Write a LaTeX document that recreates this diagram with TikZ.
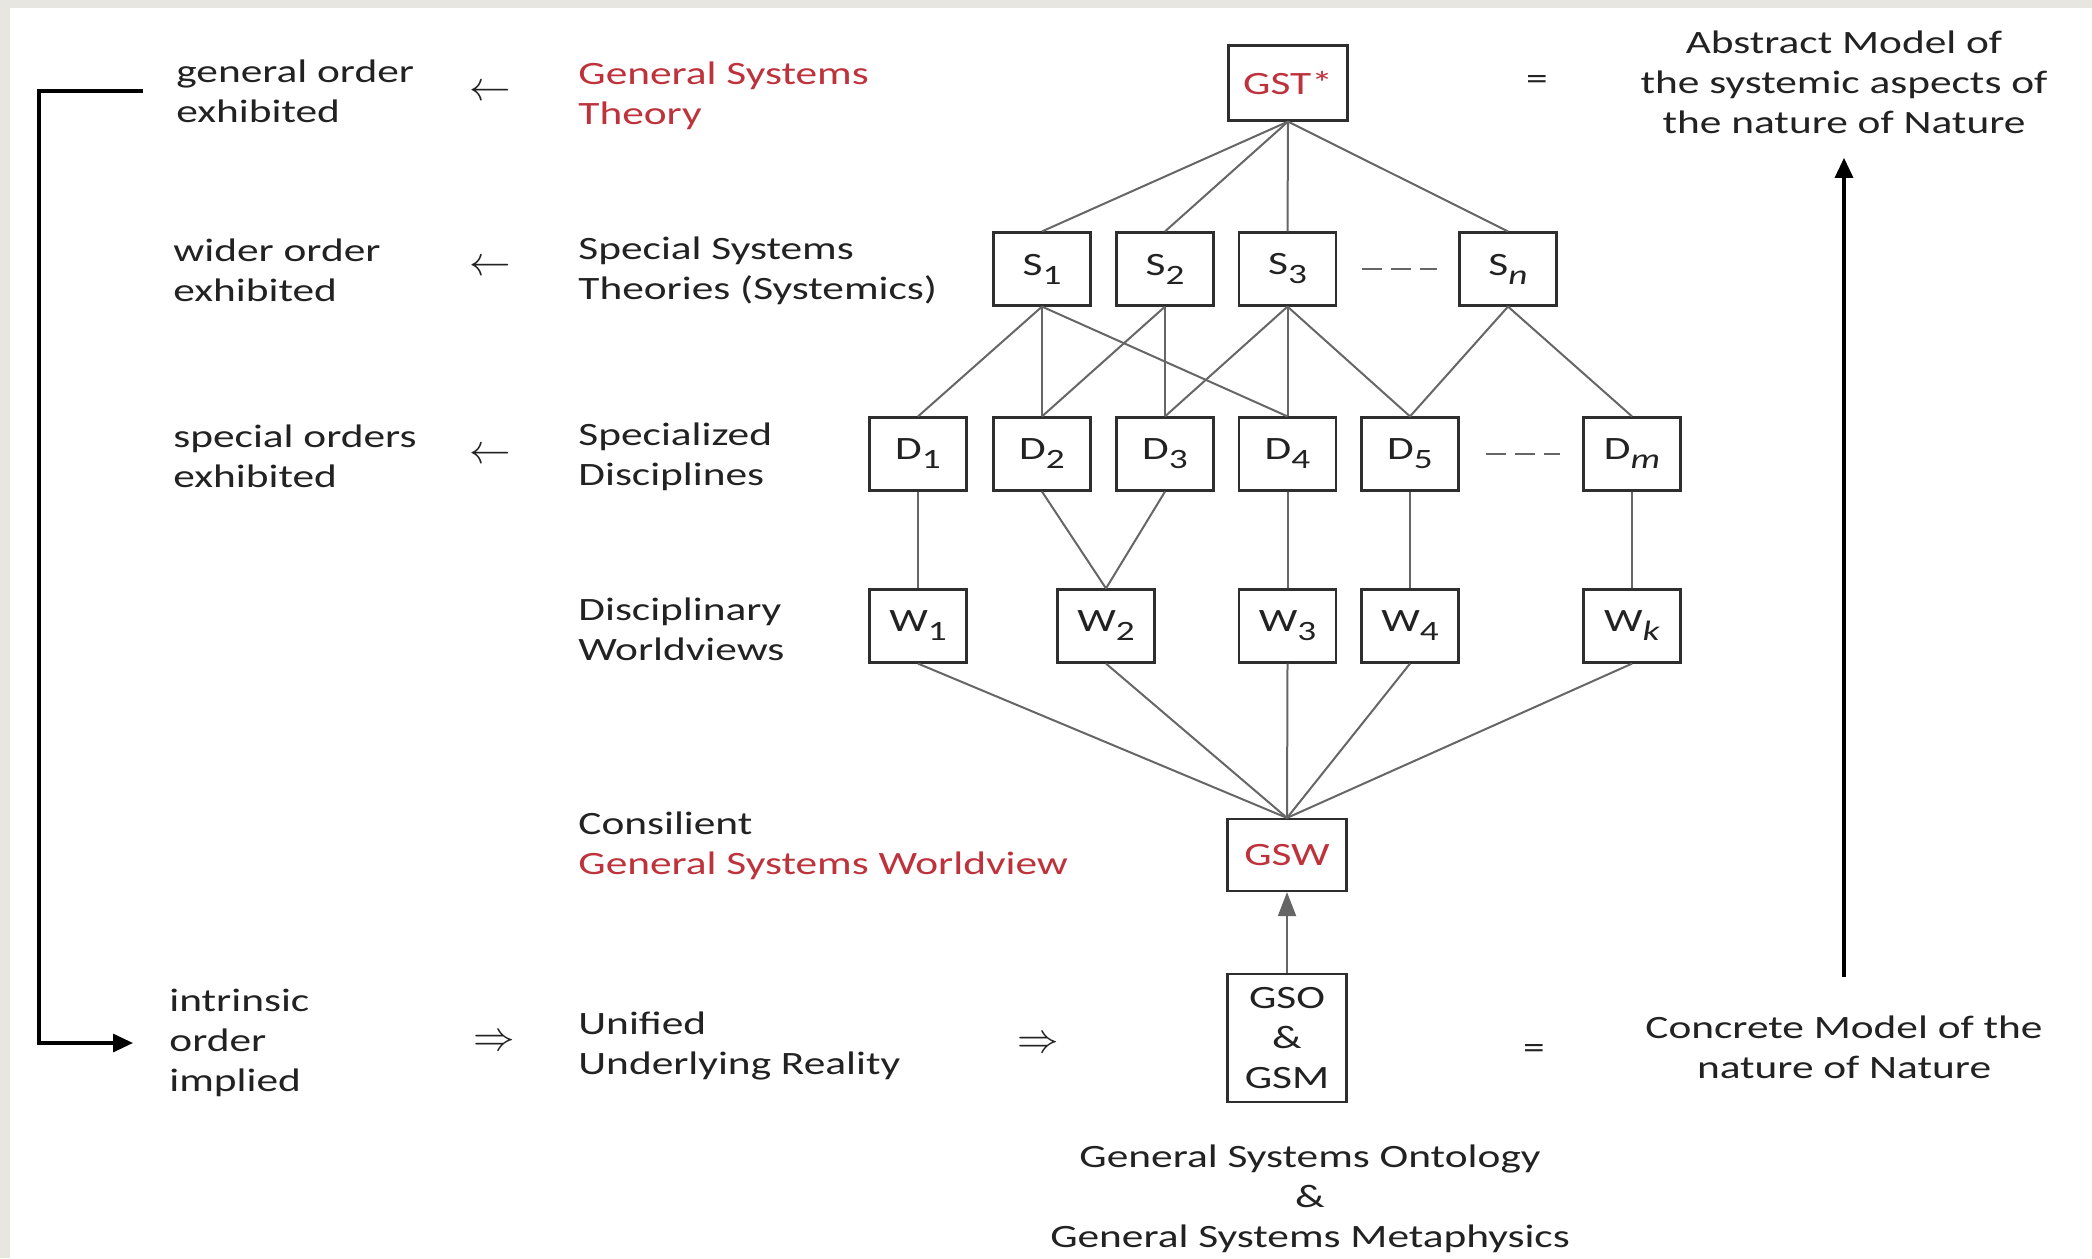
\documentclass[tikz,border=0pt]{standalone}
\usepackage{fontspec}
\setmainfont{Carlito}[FakeStretch=1.33]
\usetikzlibrary{arrows.meta}

\definecolor{ink}{HTML}{222222}
\definecolor{redtxt}{HTML}{BE323C}
\definecolor{edgegray}{HTML}{666666}
\definecolor{boxline}{HTML}{2E2E2E}
\definecolor{framegray}{HTML}{E8E6E1}

% lowered subscript for the box labels
\newcommand\dn[1]{\raisebox{-4.5pt}{\fontsize{14}{14}\selectfont #1}}

\tikzset{
  every node/.style={font=\fontsize{16.3}{20}\selectfont, text=ink},
  box/.style={draw=boxline, line width=1.1pt, fill=white, inner sep=0pt,
              minimum width=48.5pt, minimum height=36.5pt},
  bigbox/.style={box, minimum width=59.5pt},
  link/.style={draw=edgegray, line width=1pt},
  dots/.style={draw=edgegray, line width=1pt, dash pattern=on 10pt off 4.5pt},
  lbl/.style={anchor=west, align=left, inner sep=0pt},
  ctr/.style={align=center, inner sep=0pt},
  sym/.style={inner sep=0pt, font=\fontsize{20}{20}\selectfont},
  bold arrow/.style={draw=black, line width=1.6pt, -{Triangle[width=9pt,length=10pt]}},
}

\begin{document}
\begin{tikzpicture}[x=0.5pt, y=-0.5pt]
  % page background with a thin grey edge at the top and left
  \fill[framegray] (0,0) rectangle (2092,1258);
  \fill[white] (10,8) rectangle (2092,1258);
  \useasboundingbox (0,0) rectangle (2092,1258);

  % ---- hierarchy boxes ----
  \node[bigbox, minimum height=37.5pt] (gst) at (1288,83) {\textcolor{redtxt}{GST*}};

  \node[box] (s1) at (1042,269) {S\dn{1}};
  \node[box] (s2) at (1165,269) {S\dn{2}};
  \node[box] (s3) at (1287.5,269) {S\dn{3}};
  \node[box] (sn) at (1508,269) {S\dn{\textit{n}}};

  \node[box] (d1) at (918,454) {D\dn{1}};
  \node[box] (d2) at (1042,454) {D\dn{2}};
  \node[box] (d3) at (1165,454) {D\dn{3}};
  \node[box] (d4) at (1287.5,454) {D\dn{4}};
  \node[box] (d5) at (1410,454) {D\dn{5}};
  \node[box] (dm) at (1632,454) {D\dn{\textit{m}}};

  \node[box] (w1) at (918,626) {W\dn{1}};
  \node[box] (w2) at (1106,626) {W\dn{2}};
  \node[box] (w3) at (1287.5,626) {W\dn{3}};
  \node[box] (w4) at (1410,626) {W\dn{4}};
  \node[box] (wk) at (1632,626) {W\dn{\textit{k}}};

  \node[bigbox, minimum height=36pt] (gsw) at (1287,855) {\textcolor{redtxt}{GSW}};
  \node[bigbox, minimum height=64pt, align=center] (gso) at (1287,1038) {GSO\\\&\\GSM};

  % ---- connectors ----
  \foreach \s in {s1,s2,s3,sn} \draw[link] (gst.south) -- (\s.north);
  \foreach \d in {d1,d2,d4} \draw[link] (s1.south) -- (\d.north);
  \foreach \d in {d2,d3} \draw[link] (s2.south) -- (\d.north);
  \foreach \d in {d3,d4,d5} \draw[link] (s3.south) -- (\d.north);
  \foreach \d in {d5,dm} \draw[link] (sn.south) -- (\d.north);
  \draw[link] (d1.south) -- (w1.north);
  \draw[link] (d2.south) -- (w2.north);
  \draw[link] (d3.south) -- (w2.north);
  \draw[link] (d4.south) -- (w3.north);
  \draw[link] (d5.south) -- (w4.north);
  \draw[link] (dm.south) -- (wk.north);
  \foreach \w in {w1,w2,w3,w4,wk} \draw[link] (\w.south) -- (gsw.north);
  \draw[link, -{Triangle[width=9pt,length=12pt]}, edgegray] (gso.north) -- (gsw.south);

  \draw[dots] ([xshift=12.5pt]s3.east) -- ([xshift=-10.5pt]sn.west);
  \draw[dots] ([xshift=13pt]d5.east) -- ([xshift=-11pt]dm.west);

  % ---- left column ----
  \node[lbl] (gen) at (176,91) {general order\\exhibited};
  \node[lbl] (wid) at (173,270) {wider order\\exhibited};
  \node[lbl] (spo) at (173,456) {special orders\\exhibited};
  \node[lbl] (intr) at (169,1043) {intrinsic\\order\\implied};

  \node[sym] (a1) at (490,93) {$\leftarrow$};
  \node[sym] (a2) at (490,268) {$\leftarrow$};
  \node[sym] (a3) at (490,456) {$\leftarrow$};
  \node[sym] (a4) at (494,1043) {$\Rightarrow$};
  \node[sym] (a5) at (1038,1045) {$\Rightarrow$};

  % ---- level names ----
  \node[lbl, text=redtxt] (tgst) at (578,96) {General Systems\\Theory};
  \node[lbl] (tsst) at (578,271) {Special Systems\\Theories (Systemics)};
  \node[lbl] (tsd) at (578,457) {Specialized\\Disciplines};
  \node[lbl] (tdw) at (578,629) {Disciplinary\\Worldviews};
  \node[lbl] (tgsw) at (578,846) {Consilient\\\textcolor{redtxt}{General Systems Worldview}};
  \node[lbl] (tuur) at (578,1046) {Unified\\Underlying Reality};

  % ---- right column ----
  \node[inner sep=0pt] (eq1) at (1537,83) {=};
  \node[inner sep=0pt] (eq2) at (1534,1051) {=};
  \node[ctr] (abs) at (1844,82) {Abstract Model of\\the systemic aspects of\\the nature of Nature};
  \node[ctr] (conc) at (1844,1047) {Concrete Model of the\\nature of Nature};
  \node[ctr] (onto) at (1310,1199) {General Systems Ontology\\\&\\General Systems Metaphysics};

  % ---- long arrows ----
  \draw[bold arrow] ([yshift=19pt]conc.north) -- ([yshift=-12pt]abs.south);
  \draw[bold arrow] ([xshift=-16.5pt]gen.west) -- ++(-104,0) |- ([xshift=-18pt]intr.west);
\end{tikzpicture}
\end{document}
